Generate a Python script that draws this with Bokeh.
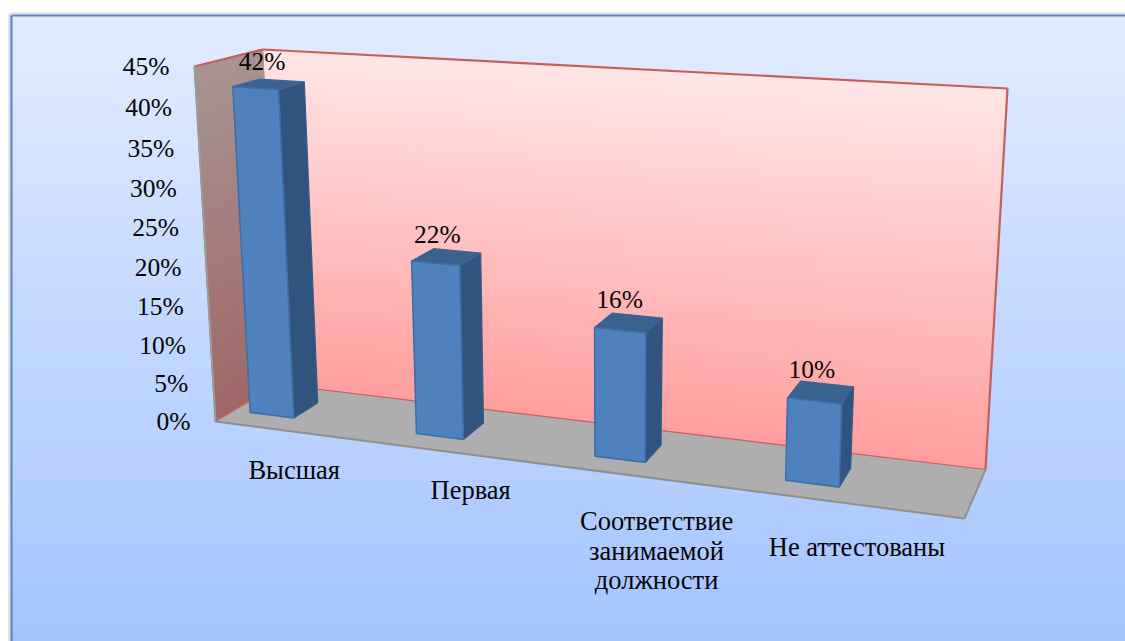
from bokeh.plotting import figure
from bokeh.models import Range1d
from bokeh.core.properties import value
from bokeh.embed import file_html
from bokeh.resources import INLINE

# ---- chart data
categories = ["Высшая", "Первая", "Соответствие\nзанимаемой\nдолжности", "Не аттестованы"]
shares = [42, 22, 16, 10]
ticks = [0, 5, 10, 15, 20, 25, 30, 35, 40, 45]
value_max = 45

W, H = 1125, 641
p = figure(width=W, height=H, output_backend="svg", toolbar_location=None,
           x_range=Range1d(0, W), y_range=Range1d(H, 0),
           x_axis_type=None, y_axis_type=None, min_border=0)
p.grid.visible = False
p.outline_line_color = None
p.background_fill_color = "white"
p.border_fill_color = "white"

# ---- the oblique 3D scale of the picture
FLOOR = {"fl": (215, 421), "fr": (964, 518), "bl": (278, 384), "br": (985, 469)}
TOP = {"fl": (194, 66), "fr": (981, 118), "bl": (262, 49), "br": (1007, 88)}


def bilin(c, t, d):
    out = []
    for k in (0, 1):
        front = c["fl"][k] * (1 - t) + c["fr"][k] * t
        back = c["bl"][k] * (1 - t) + c["br"][k] * t
        out.append(front * (1 - d) + back * d)
    return out


def warp(v):
    s = v / value_max
    return s / (s + 1.04 * (1 - s))


def project(t, d, v):
    bx, by = bilin(FLOOR, t, d)
    tx, ty = bilin(TOP, t, d)
    w = warp(v)
    return bx + (tx - bx) * w, by + (ty - by) * w


def cat_t(i):
    return 0.051 + 0.2197 * i + 0.0083 * i * i


def poly(pts):
    return [a for a, _ in pts], [b for _, b in pts]


def lerp(c0, c1, f):
    return "#%02x%02x%02x" % tuple(round(a + (b - a) * f) for a, b in zip(c0, c1))


# ---- slide panel with vertical gradient
N = 80
PX0, PY0 = 11, 15
p.line([9, 9], [13, H], line_color="#e4e4e4", line_width=3)
p.line([9, W], [13, 13], line_color="#dcdcdc", line_width=2)
for k in range(N):
    y0 = PY0 + (H - PY0) * k / N
    y1 = PY0 + (H - PY0) * (k + 1) / N
    c = lerp((225, 236, 255), (164, 196, 255), k / (N - 1))
    p.quad(left=PX0, right=W, top=y0, bottom=y1 + 0.5, fill_color=c, line_color=None)
p.line([PX0, PX0], [H, PY0], line_color="#5b8ac6", line_width=2.2)
p.line([PX0, W], [PY0, PY0], line_color="#5b8ac6", line_width=2.2)

# ---- back wall and side wall gradients
for k in range(N):
    v0, v1 = value_max * k / N, value_max * (k + 1) / N
    f = k / (N - 1)
    xs, ys = poly([project(0, 1, v0), project(1, 1, v0), project(1, 1, v1), project(0, 1, v1)])
    col = lerp((255, 158, 158), (255, 229, 229), f)
    p.patch(xs, ys, fill_color=col, line_color=col, line_width=1.5)
for k in range(N):
    v0, v1 = value_max * k / N, value_max * (k + 1) / N
    f = k / (N - 1)
    xs, ys = poly([project(0, 0, v0), project(0, 1, v0), project(0, 1, v1), project(0, 0, v1)])
    col = lerp((160, 102, 102), (167, 148, 146), f)
    p.patch(xs, ys, fill_color=col, line_color=col, line_width=1.5)

# ---- floor
xs, ys = poly([project(0, 0, 0), project(1, 0, 0), project(1, 1, 0), project(0, 1, 0)])
p.patch(xs, ys, fill_color="#aeaeae", line_color=None)

# ---- frame lines
RED = "#c4605c"
GREY = "#8f8f8f"
for a, b, col, lw in [
    ((0, 1, value_max), (1, 1, value_max), RED, 2.2),
    ((1, 1, value_max), (1, 1, 0), RED, 2.2),
    ((0, 1, 0), (1, 1, 0), RED, 1.2),
    ((0, 1, value_max), (0, 1, 0), "#c98a88", 1),
    ((0, 0, value_max), (0, 1, value_max), RED, 2.2),
    ((0, 0, 0), (0, 1, 0), "#d0706c", 1.2),
    ((0, 0, 0), (0, 0, value_max), "#9a9a9a", 2),
    ((0, 0, 0), (1, 0, 0), GREY, 2),
    ((1, 0, 0), (1, 1, 0), GREY, 2),
]:
    xs, ys = poly([project(*a), project(*b)])
    p.line(xs, ys, line_color=col, line_width=lw)

# ---- bars
D0, D1 = 0.3, 0.7
HW = 0.135
FRONT, TOPC, SIDE, EDGE = "#4f81bd", "#39628f", "#30547d", "#3d6ea8"
for i, val in enumerate(shares):
    t0, t1 = cat_t(i - HW), cat_t(i + HW)
    xs, ys = poly([project(t1, D0, 0), project(t1, D1, 0), project(t1, D1, val), project(t1, D0, val)])
    p.patch(xs, ys, fill_color=SIDE, line_color="#355b88", line_width=1.2)
    xs, ys = poly([project(t0, D0, val), project(t1, D0, val), project(t1, D1, val), project(t0, D1, val)])
    p.patch(xs, ys, fill_color=TOPC, line_color="#3a6596", line_width=1.2)
    xs, ys = poly([project(t0, D0, 0), project(t1, D0, 0), project(t1, D0, val), project(t0, D0, val)])
    p.patch(xs, ys, fill_color=FRONT, line_color=EDGE, line_width=1.6)

FONT = value("Liberation Serif")
SIZE_NUM = "25.5px"
SIZE_CAT = "26.5px"
COL = "#050505"

# ---- value labels
for i, val in enumerate(shares):
    x, y = project(cat_t(i), 0.5, val)
    p.text([x - 9 + (2.5 if i == 0 else 0)], [y - 23], text=[f"{val}%"], text_font=FONT,
           text_font_size=SIZE_NUM, text_color=COL, text_align="center", text_baseline="middle")

# ---- value axis labels
for tk in ticks:
    x, y = project(0, 0, tk)
    p.text([x - 25], [y + 0.2], text=[f"{tk}%"], text_font=FONT, text_font_size=SIZE_NUM,
           text_color=COL, text_align="right", text_baseline="middle")

# ---- category labels
LINE = 29.5
label_dy = [0, -5, 0, -2]
label_dx = [-0.5, 0.5, -1.5, -1.5]
for i, cat in enumerate(categories):
    x, y = project(cat_t(i), 0, 0)
    for j, line in enumerate(cat.split("\n")):
        p.text([x + 41 + 4.7 * i + label_dx[i]], [y + 44 + 2.5 * i + label_dy[i] + j * LINE], text=[line],
               text_font=FONT, text_font_size=SIZE_CAT, text_color=COL,
               text_align="center", text_baseline="middle")

open("out.html", "w").write(file_html(p, INLINE))
